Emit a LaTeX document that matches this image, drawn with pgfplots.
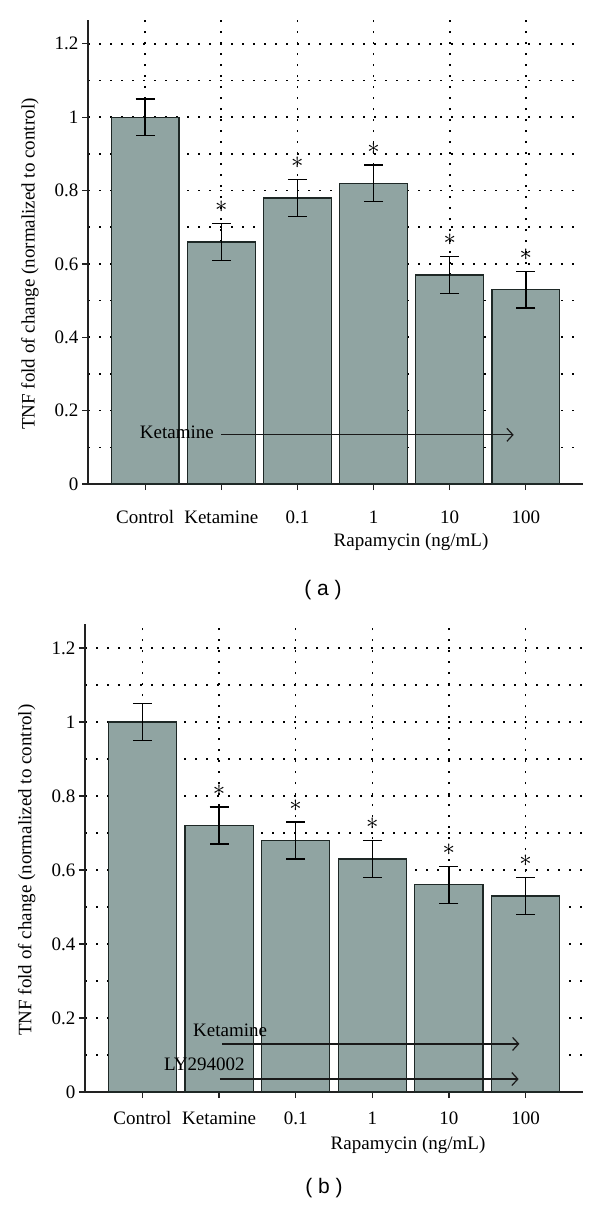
\documentclass[border=0pt]{standalone}
\usepackage{pgfplots}
\pgfplotsset{compat=1.18}
\usepackage{fontspec}
\setmainfont{Liberation Serif}
\newfontfamily\labelsans{Liberation Sans}
\usetikzlibrary{arrows.meta}
\definecolor{barfill}{HTML}{90A4A2}
\definecolor{baredge}{HTML}{1E2826}
\definecolor{axisc}{HTML}{222222}

\tikzset{arr/.style={-{Straight Barb[length=6bp, width=13bp]}, line width=1.2bp, black!90}}

\pgfplotsset{
  panel/.style={
    scale only axis,
    xmin=-0.75, xmax=5.75,
    ymin=0, ymax=1.265,
    axis x line*=bottom, axis y line*=left,
    axis line style={axisc, line width=1.4bp},
    xtick={0,...,5},
    xticklabels={Control,Ketamine,0.1,1,10,100},
    ytick={0,0.2,0.4,0.6,0.8,1,1.2},
    minor ytick={0.1,0.3,0.5,0.7,0.9,1.1},
    xmajorgrids, ymajorgrids, yminorgrids,
    major grid style={black, line width=1.6bp, dash pattern=on 1.6bp off 9.4bp},
    minor grid style={black, line width=1.6bp, dash pattern=on 1.6bp off 9.4bp},
    tick align=outside,
    major tick length=6bp, minor tick length=0pt,
    tick style={axisc, line width=1.2bp},
    font=\fontsize{19bp}{21bp}\selectfont,
    /pgf/number format/assume math mode=true,
    every axis y label/.style={at={(axis description cs:-0.117,0.474)}, rotate=90, anchor=center},
    ylabel={TNF fold of change (normalized to control)},
    clip=false,
  },
  tnfbar/.style={ybar, bar width=0.89, fill=barfill, draw=baredge, line width=1.3bp,
    error bars/.cd, y dir=both, y explicit,
    error bar style={black, line width=1.3bp},
    error mark options={rotate=90, mark size=9.5bp, line width=1.3bp, black}},
  stars/.style={only marks, mark=*, mark size=0.5pt, mark options={draw=none, fill=none},
    nodes near coords={$\ast$},
    every node near coord/.append style={anchor=center, inner sep=0pt, font=\fontsize{30bp}{32bp}\selectfont}},
}

\begin{document}
\begin{tikzpicture}
\useasboundingbox (0,0) rectangle (600bp,-1205bp);

% ---------- panel (a) ----------
\begin{axis}[panel, at={(88bp,-484bp)}, anchor=south west,
  width=495bp, height=464bp,
  xticklabel style={anchor=base, yshift=-33bp}]
\addplot[tnfbar] coordinates {
  (0,1.00) +- (0,0.05)
  (1,0.66) +- (0,0.05)
  (2,0.78) +- (0,0.05)
  (3,0.82) +- (0,0.05)
  (4,0.57) +- (0,0.05)
  (5,0.53) +- (0,0.05)
};
\addplot[stars] coordinates {
  (1,0.755) (2,0.875) (3,0.915) (4,0.665) (5,0.625)
};
\draw[arr] (axis cs:1.0,0.134) -- (axis cs:4.84,0.134);
\node[anchor=base west, inner sep=0pt] at (axis cs:-0.07,0.125) {Ketamine};
\end{axis}
\node[font=\fontsize{19bp}{21bp}\selectfont] at (411bp,-542bp) {Rapamycin (ng/mL)};
\node[font=\labelsans\fontsize{21bp}{23bp}\selectfont] at (323bp,-590bp) {( a )};

% ---------- panel (b) ----------
\begin{axis}[panel, at={(85bp,-1092bp)}, anchor=south west,
  width=498bp, height=468bp,
  xticklabel style={anchor=base, yshift=-26bp}]
\addplot[tnfbar] coordinates {
  (0,1.00) +- (0,0.05)
  (1,0.72) +- (0,0.05)
  (2,0.68) +- (0,0.05)
  (3,0.63) +- (0,0.05)
  (4,0.56) +- (0,0.05)
  (5,0.53) +- (0,0.05)
};
\addplot[stars] coordinates {
  (1,0.815) (2,0.775) (3,0.725) (4,0.655) (5,0.625)
};
\draw[arr] (axis cs:1.04,0.130) -- (axis cs:4.92,0.130);
\node[anchor=base west, inner sep=0pt] at (axis cs:0.66,0.149) {Ketamine};
\draw[arr] (axis cs:1.01,0.035) -- (axis cs:4.91,0.035);
\node[anchor=base west, inner sep=0pt] at (axis cs:0.28,0.057) {LY294002};
\end{axis}
\node[font=\fontsize{19bp}{21bp}\selectfont] at (408bp,-1145bp) {Rapamycin (ng/mL)};
\node[font=\labelsans\fontsize{21bp}{23bp}\selectfont] at (324bp,-1188bp) {( b )};
\end{tikzpicture}
\end{document}
